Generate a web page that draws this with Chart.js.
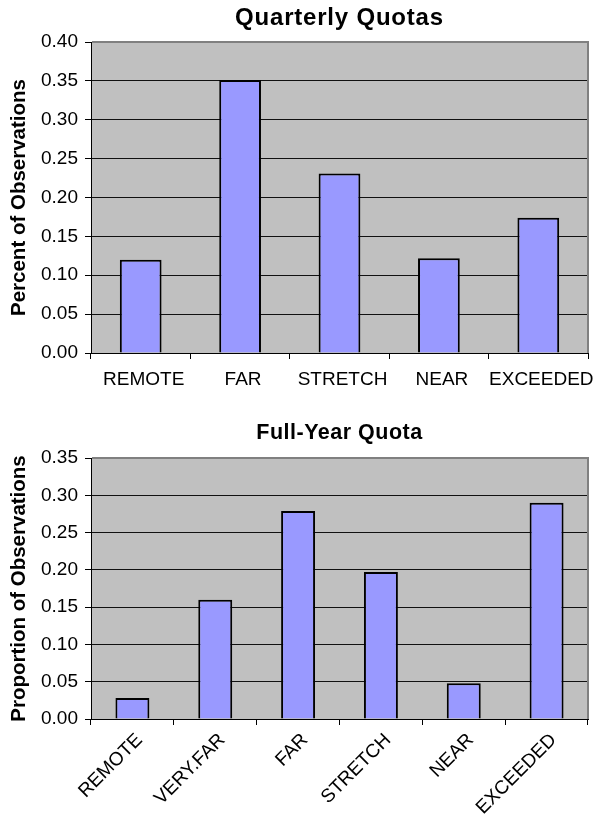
<!DOCTYPE html>
<html>
<head>
<meta charset="utf-8">
<script src="https://cdn.jsdelivr.net/npm/chart.js@4.4.1/dist/chart.umd.min.js"></script>
<style>
  body { margin: 0; background: #fff; }
  canvas { position: absolute; left: 0; }
  #grafico-trimestral { top: 0; }
  #grafico-anual { top: 400px; }
  .titulo {
    position: absolute;
    left: 91px;
    width: 497px;
    text-align: center;
    font-family: 'Liberation Sans', Arial, sans-serif;
    font-weight: bold;
    color: #000;
    white-space: nowrap;
  }
  #titulo-trimestral { top: 5px; font-size: 24px; line-height: 24px; letter-spacing: 0.8px; }
  #titulo-anual { top: 422px; font-size: 21.5px; line-height: 21.5px; letter-spacing: 0.5px; }
</style>
</head>
<body>
<canvas id="grafico-trimestral" width="601" height="400"></canvas>
<canvas id="grafico-anual" width="601" height="415"></canvas>
<div class="titulo" id="titulo-trimestral">Quarterly Quotas</div>
<div class="titulo" id="titulo-anual">Full-Year Quota</div>
<script>
// Quarterly quotas
const quarterLabels = ['REMOTE', 'FAR', 'STRETCH', 'NEAR', 'EXCEEDED'];
const quarterValues = [0.120, 0.351, 0.231, 0.122, 0.174];

// Full-year quota
const yearLabels = ['REMOTE', 'VERY.FAR', 'FAR', 'STRETCH', 'NEAR', 'EXCEEDED'];
const yearValues = [0.028, 0.160, 0.279, 0.197, 0.048, 0.290];

const fonte = "'Liberation Sans', Arial, sans-serif";

// fundo cinza e borda da área do gráfico
const plotArea = {
    id: 'plotArea',
    beforeDraw(chart) {
        const { ctx, chartArea: a } = chart;
        ctx.save();
        ctx.fillStyle = '#c0c0c0';
        ctx.fillRect(a.left, a.top, a.width, a.height);
        ctx.restore();
    },
    afterDraw(chart) {
        const { ctx, chartArea: a } = chart;
        ctx.save();
        ctx.strokeStyle = '#808080';
        ctx.lineWidth = 2;
        ctx.beginPath();
        ctx.moveTo(a.left + 1, a.top);
        ctx.lineTo(a.right, a.top);
        ctx.lineTo(a.right, a.bottom);
        ctx.stroke();
        ctx.restore();
    }
};

function makeChart(id, labels, values, o) {
    return new Chart(document.getElementById(id), {
        type: 'bar',
        data: {
            labels: labels,
            datasets: [{
                data: values,
                backgroundColor: '#9999ff',
                borderColor: '#000',
                borderWidth: 2,
                barPercentage: o.barPct,
                categoryPercentage: 1
            }]
        },
        options: {
            responsive: false,
            animation: false,
            layout: { padding: { left: 0, right: 13, top: o.padTop, bottom: 0 } },
            plugins: {
                legend: { display: false },
                tooltip: { enabled: false },
                title: { display: false }
            },
            scales: {
                x: {
                    grid: { offset: true, drawOnChartArea: false, tickLength: 6, tickColor: '#000' },
                    border: { color: '#000', width: 1 },
                    ticks: {
                        color: '#000',
                        font: { family: fonte, size: 19 },
                        autoSkip: false,
                        maxRotation: o.rot,
                        minRotation: o.rot,
                        padding: o.xPad,
                        labelOffset: o.labelOffset
                    },
                    afterFit: s => { s.height = o.xHeight; }
                },
                y: {
                    min: 0,
                    max: o.max,
                    ticks: {
                        stepSize: 0.05,
                        color: '#000',
                        font: { family: fonte, size: 19 },
                        padding: 7,
                        callback: v => v.toFixed(2)
                    },
                    grid: {
                        color: c => (c.tick && c.tick.value > o.max - 1e-6) ? 'rgba(0,0,0,0)' : '#111',
                        tickColor: '#000',
                        tickLength: 6
                    },
                    border: { color: '#000', width: 1 },
                    title: {
                        display: true,
                        text: o.yTitle,
                        color: '#000',
                        font: { family: fonte, size: 20.5, weight: 'bold' },
                        padding: { top: 7, bottom: 0 }
                    },
                    afterFit: s => { s.width = 91; }
                }
            }
        },
        plugins: [plotArea]
    });
}

makeChart('grafico-trimestral', quarterLabels, quarterValues, {
    padTop: 42, max: 0.40, yTitle: 'Percent of Observations',
    rot: 0, xPad: 9, labelOffset: 3, xHeight: 47, barPct: 0.42
});

makeChart('grafico-anual', yearLabels, yearValues, {
    padTop: 58, max: 0.35, yTitle: 'Proportion of Observations',
    rot: 45, xPad: 4, labelOffset: 7, xHeight: 96, barPct: 0.41
});
</script>
</body>
</html>
